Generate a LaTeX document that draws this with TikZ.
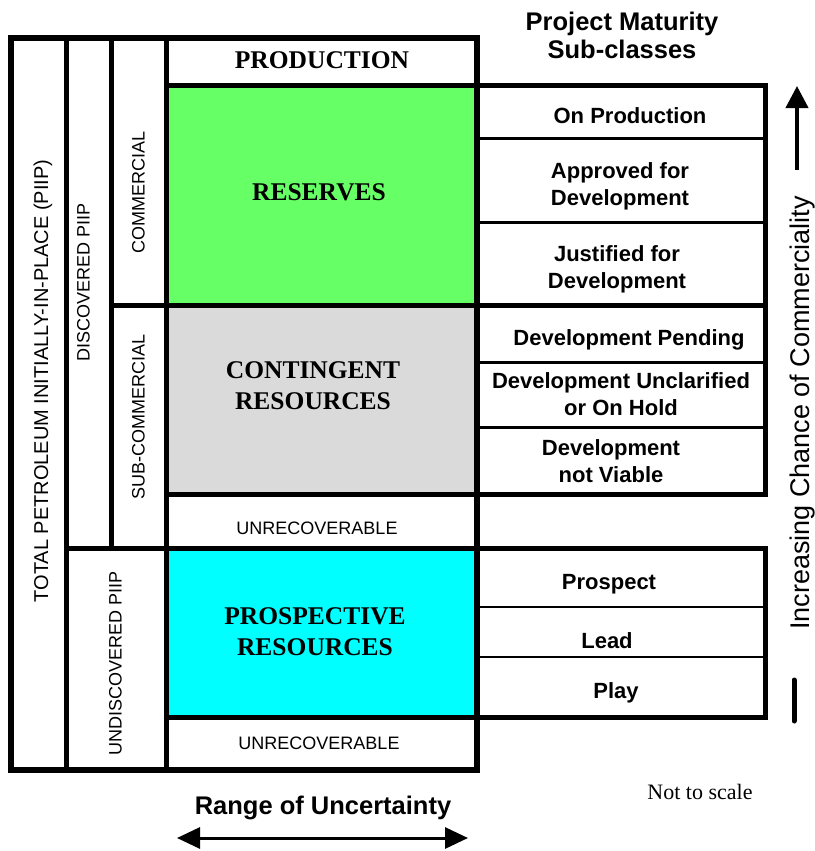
\documentclass[tikz,border=0pt]{standalone}
\usepackage{fontspec}
\setmainfont{Liberation Serif}
\setsansfont{Liberation Sans}
\usepackage{tikz}
\usetikzlibrary{math}
\usetikzlibrary{arrows.meta}
\definecolor{cgreen}{RGB}{102, 255, 102}
\definecolor{cgray}{RGB}{218, 218, 218}
\definecolor{ccyan}{RGB}{0, 255, 255}

\begin{document}
\begin{tikzpicture}[x=1pt, y=-1pt,
  heavy/.style={line width=5pt},
  medium/.style={line width=3pt},
  light/.style={line width=2pt},
  classname/.style={inner sep=0pt, align=center, font=\fontsize{25.5}{31}\selectfont\bfseries, text height=17pt, text depth=0pt},
  sidelabel/.style={inner sep=0pt, rotate=90, font=\sffamily\fontsize{18}{22}\selectfont, text height=13pt, text depth=0pt},
  unrec/.style={inner sep=0pt, font=\sffamily\fontsize{18}{22}\selectfont, text height=13pt, text depth=0pt},
  subclass/.style={inner sep=0pt, align=center, font=\sffamily\bfseries\fontsize{22}{26.5}\selectfont, text height=16pt, text depth=0pt},
  heading/.style={inner sep=0pt, align=center, font=\sffamily\bfseries\fontsize{25.5}{28}\selectfont, text height=18.3pt, text depth=0pt},
]
  \tikzmath{
    % columns
    \xout = 11;
    \xdisc = 66;
    \xcom = 111;
    \xcell = 166;
    \xmid = 477;
    \xsub = 765;
    %
    % rows
    \ytop = 38;
    \yprod = 85;
    \yres = 305;
    \ycont = 494;
    \yundisc = 548;
    \ypros = 717;
    \ybot = 770;
    \yonp = 138;
    \yapp = 222;
    \ydp = 362;
    \ydu = 427;
    \ypr = 607;
    \yle = 657;
  }
  \useasboundingbox (0, 0) rectangle (814, 851);

  % class fills
  \fill [cgreen] (\xcell, \yprod) rectangle (\xmid, \yres);
  \fill [cgray] (\xcell, \yres) rectangle (\xmid, \ycont);
  \fill [ccyan] (\xcell, \yundisc) rectangle (\xmid, \ypros);

  % resource frame
  \draw [line width=6pt] (\xout, \ytop) rectangle (\xmid, \ybot);
  \draw [heavy] (\xdisc, \ytop) -- (\xdisc, \ybot);
  \draw [heavy] (\xcom, \ytop) -- (\xcom, \yundisc);
  \draw [heavy] (\xcell, \ytop) -- (\xcell, \ybot);
  \draw [heavy] (\xcell, \yprod) -- (\xmid, \yprod);
  \draw [heavy] (\xcom, \yres) -- (\xmid, \yres);
  \draw [heavy] (\xcell, \ycont) -- (\xmid, \ycont);
  \draw [heavy] (\xdisc, \yundisc) -- (\xmid, \yundisc);
  \draw [heavy] (\xcell, \ypros) -- (\xmid, \ypros);

  % sub-class boxes
  \draw [heavy] (\xmid, \yprod) rectangle (\xsub, \ycont);
  \draw [medium] (\xmid, \yonp) -- (\xsub, \yonp);
  \draw [medium] (\xmid, \yapp) -- (\xsub, \yapp);
  \draw [heavy] (\xmid, \yres) -- (\xsub, \yres);
  \draw [medium] (\xmid, \ydp) -- (\xsub, \ydp);
  \draw [medium] (\xmid, \ydu) -- (\xsub, \ydu);
  \draw [heavy] (\xmid, \yundisc) rectangle (\xsub, \ypros);
  \draw [light] (\xmid, \ypr) -- (\xsub, \ypr);
  \draw [light] (\xmid, \yle) -- (\xsub, \yle);

  % side labels
  \node [sidelabel, font=\sffamily\fontsize{20}{24}\selectfont, text height=14.3pt] (piip) at (41, 381) {TOTAL PETROLEUM INITIALLY-IN-PLACE (PIIP)};
  \node [sidelabel] (discovered) at (83, 282) {DISCOVERED PIIP};
  \node [sidelabel] (commercial) at (138, 192) {COMMERCIAL};
  \node [sidelabel] (subcommercial) at (138, 417) {SUB-COMMERCIAL};
  \node [sidelabel] (undiscovered) at (115, 663) {UNDISCOVERED PIIP};

  % classes (multi-line nodes sit on their last line)
  \node [classname] (production) at (322, 60.5) {PRODUCTION};
  \node [classname] (reserves) at (319, 192) {RESERVES};
  \node [classname] (contingent) at (313, 400.5) {CONTINGENT\\RESOURCES};
  \node [unrec] (unrecA) at (317, 528) {UNRECOVERABLE};
  \node [classname] (prospective) at (315, 646.5) {PROSPECTIVE\\RESOURCES};
  \node [unrec] (unrecB) at (319, 743) {UNRECOVERABLE};

  % project maturity sub-classes
  \node [heading] (maturity) at (622, 48.9) {Project Maturity\\Sub-classes};
  \node [subclass] (onprod) at (630, 115) {On Production};
  \node [subclass] (approved) at (620, 197) {Approved for\\Development};
  \node [subclass] (justified) at (617, 280) {Justified for\\Development};
  \node [subclass] (pending) at (629, 337) {Development Pending};
  \node [subclass] (unclarified) at (621, 407) {Development Unclarified\\or On Hold};
  \node [subclass] (notviable) at (611, 474) {Development\\not Viable};
  \node [subclass] (prospect) at (609, 581) {Prospect};
  \node [subclass] (lead) at (607, 640) {Lead};
  \node [subclass] (play) at (616, 690) {Play};

  % chance of commerciality
  \coordinate (chancetop) at (797, 86);
  \coordinate (chancebot) at (797, 170);
  \draw [line width=4pt, -{Triangle[length=22pt, width=22pt]}] (chancebot) -- (chancetop);
  \node [inner sep=0pt, rotate=90, font=\sffamily\fontsize{27}{32}\selectfont, text height=19.3pt, text depth=0pt] (chance) at (799.5, 413) {Increasing Chance of Commerciality};
  \coordinate (barA) at (794, 680);
  \coordinate (barB) at (794, 721);
  \draw [heavy, line cap=round] (barA) -- (barB);

  % range of uncertainty
  \node [heading] (range) at (323, 805) {Range of Uncertainty};
  \coordinate (rangeL) at (177, 838);
  \coordinate (rangeR) at (468, 838);
  \draw [line width=3pt, {Triangle[length=23pt, width=21pt]}-{Triangle[length=23pt, width=21pt]}] (rangeL) -- (rangeR);
  \node [inner sep=0pt, font=\fontsize{22}{26}\selectfont, text height=14.6pt, text depth=0pt] (scale) at (700, 792) {Not to scale};
\end{tikzpicture}
\end{document}
